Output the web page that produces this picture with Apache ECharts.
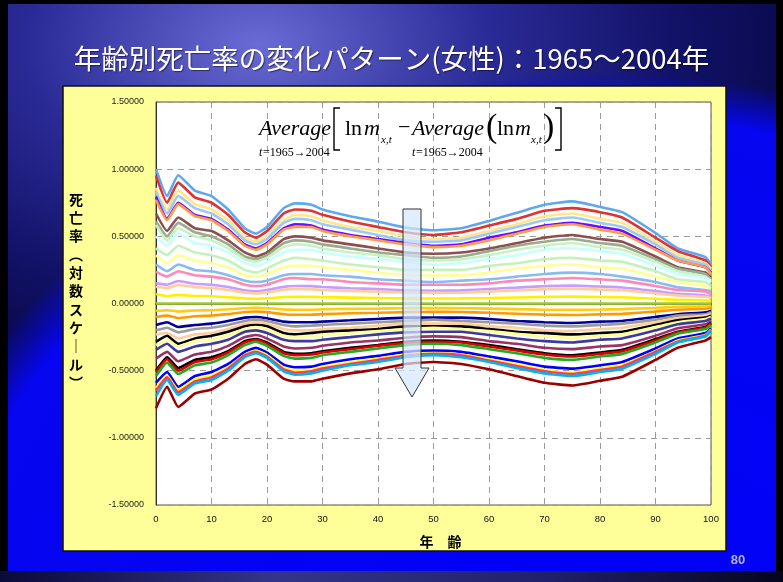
<!DOCTYPE html>
<html>
<head>
<meta charset="utf-8">
<script src="https://cdn.jsdelivr.net/npm/echarts@6/dist/echarts.min.js"></script>
<style>
  html, body { margin: 0; padding: 0; background: #000; width: 783px; height: 582px; overflow: hidden; }
  #slide {
    position: absolute; left: 8px; top: 4px; width: 768px; height: 567px;
    background:
      radial-gradient(ellipse 700px 548px at 592px 616px, #0000f8 0%, #0606f0 92%, rgba(10,10,200,0) 100%),
      radial-gradient(ellipse 520px 320px at 250px 40px, #6b6bd6 0%, #2a2a96 45%, #121268 80%, #0b0b52 100%);
  }
  #foot {
    position: absolute; left: 0; top: 571px; width: 783px; height: 11px;
    background: linear-gradient(90deg, #0a0a3a 0%, #34348a 35%, #20206a 70%, #05051e 100%);
  }
  #chart { position: absolute; left: 0; top: 0; width: 783px; height: 582px; }
</style>
</head>
<body>
<div id="slide"></div>
<div id="foot"></div>
<div id="chart"></div>
<script>
// Ages (years) at which each curve is sampled
const ages = [0, 2, 4, 7, 10, 13, 16, 18, 20, 23, 25, 28, 30, 35, 40, 45, 50, 55, 60, 65, 70, 75, 80, 84, 90, 94, 99, 100];

// Y axis tick values
const yTicks = [-1.5, -1.0, -0.5, 0, 0.5, 1.0, 1.5];

// Log mortality deviation curves, ordered from the top curve down to the bottom curve
const curve01 = [1.00,0.80,0.955,0.84,0.80,0.70,0.56,0.52,0.57,0.71,0.745,0.735,0.70,0.65,0.61,0.565,0.545,0.56,0.615,0.675,0.735,0.76,0.72,0.68,0.525,0.41,0.345,0.29];
const curve02 = [0.95,0.75,0.90,0.79,0.75,0.66,0.53,0.49,0.54,0.67,0.70,0.69,0.66,0.61,0.57,0.53,0.51,0.53,0.58,0.63,0.69,0.71,0.68,0.64,0.49,0.39,0.32,0.27];
const curve03 = [0.86,0.70,0.84,0.74,0.70,0.62,0.49,0.46,0.50,0.62,0.66,0.65,0.62,0.57,0.54,0.50,0.48,0.49,0.54,0.59,0.65,0.67,0.63,0.60,0.46,0.36,0.30,0.26];
const curve04 = [0.83,0.67,0.80,0.71,0.67,0.59,0.47,0.44,0.48,0.60,0.63,0.62,0.59,0.55,0.51,0.47,0.46,0.47,0.52,0.57,0.62,0.64,0.60,0.57,0.44,0.34,0.29,0.24];
const curve05 = [0.795,0.63,0.75,0.66,0.63,0.55,0.44,0.41,0.45,0.56,0.59,0.58,0.55,0.51,0.48,0.45,0.43,0.44,0.49,0.53,0.58,0.60,0.57,0.54,0.41,0.32,0.27,0.23];
const curve06 = [0.77,0.62,0.74,0.65,0.62,0.54,0.43,0.40,0.44,0.55,0.57,0.57,0.54,0.50,0.47,0.44,0.42,0.43,0.47,0.52,0.57,0.59,0.55,0.52,0.40,0.32,0.27,0.22];
const curve07 = [0.67,0.54,0.64,0.56,0.54,0.47,0.38,0.35,0.38,0.48,0.50,0.49,0.47,0.44,0.41,0.38,0.37,0.38,0.41,0.45,0.49,0.51,0.48,0.46,0.35,0.27,0.23,0.19];
const curve08 = [0.61,0.50,0.60,0.53,0.50,0.44,0.35,0.33,0.36,0.45,0.47,0.46,0.44,0.41,0.38,0.36,0.34,0.35,0.39,0.43,0.46,0.48,0.45,0.43,0.33,0.26,0.22,0.18];
const curve09 = [0.585,0.47,0.56,0.50,0.47,0.41,0.33,0.31,0.34,0.42,0.44,0.43,0.41,0.38,0.36,0.33,0.32,0.33,0.36,0.40,0.43,0.45,0.42,0.40,0.31,0.24,0.20,0.17];
const curve10 = [0.50,0.43,0.52,0.45,0.43,0.38,0.30,0.28,0.31,0.38,0.40,0.40,0.38,0.35,0.33,0.31,0.29,0.30,0.33,0.36,0.40,0.41,0.39,0.37,0.28,0.22,0.19,0.16];
const curve11 = [0.41,0.36,0.43,0.38,0.36,0.32,0.25,0.23,0.26,0.32,0.34,0.33,0.32,0.29,0.27,0.25,0.25,0.25,0.28,0.30,0.33,0.34,0.32,0.31,0.24,0.18,0.16,0.13];
const curve12 = [0.36,0.30,0.36,0.32,0.30,0.27,0.21,0.20,0.22,0.27,0.28,0.28,0.27,0.25,0.23,0.21,0.21,0.21,0.23,0.26,0.28,0.29,0.27,0.26,0.20,0.16,0.13,0.11];
const curve13 = [0.29,0.24,0.29,0.25,0.24,0.21,0.17,0.16,0.17,0.21,0.22,0.22,0.21,0.20,0.18,0.17,0.16,0.17,0.18,0.20,0.22,0.23,0.22,0.20,0.16,0.12,0.10,0.09];
const curve14 = [0.235,0.20,0.24,0.21,0.20,0.18,0.14,0.13,0.14,0.18,0.19,0.18,0.18,0.16,0.15,0.14,0.14,0.14,0.15,0.17,0.18,0.19,0.18,0.17,0.13,0.10,0.09,0.07];
const curve15 = [0.15,0.14,0.167,0.147,0.14,0.123,0.098,0.091,0.10,0.124,0.13,0.129,0.123,0.114,0.107,0.099,0.095,0.098,0.108,0.118,0.129,0.133,0.126,0.119,0.092,0.072,0.06,0.051];
const curve16 = [0.125,0.116,0.138,0.122,0.116,0.10,0.081,0.075,0.083,0.103,0.108,0.107,0.10,0.094,0.088,0.082,0.079,0.081,0.089,0.098,0.107,0.11,0.104,0.099,0.076,0.059,0.05,0.042];
const curve17 = [0.07,0.054,0.064,0.056,0.054,0.047,0.038,0.035,0.038,0.048,0.05,0.049,0.047,0.044,0.041,0.038,0.037,0.038,0.041,0.045,0.049,0.051,0.048,0.046,0.035,0.027,0.023,0.019];
const curve18 = [0,0,0,0,0,0,0,0,0,0,0,0,0,0,0,0,0,0,0,0,0,0,0,0,0,0,0,0];
const curve19 = [-0.055,-0.05,-0.059,-0.052,-0.05,-0.043,-0.035,-0.032,-0.035,-0.044,-0.046,-0.046,-0.043,-0.04,-0.038,-0.035,-0.034,-0.035,-0.038,-0.042,-0.046,-0.047,-0.045,-0.042,-0.033,-0.025,-0.021,-0.018];
const curve20 = [-0.10,-0.09,-0.108,-0.095,-0.09,-0.079,-0.063,-0.059,-0.064,-0.08,-0.084,-0.083,-0.079,-0.073,-0.069,-0.064,-0.062,-0.063,-0.069,-0.076,-0.083,-0.086,-0.081,-0.077,-0.059,-0.046,-0.039,-0.033];
const curve21 = [-0.16,-0.14,-0.175,-0.16,-0.15,-0.13,-0.105,-0.10,-0.11,-0.135,-0.14,-0.14,-0.135,-0.125,-0.115,-0.105,-0.105,-0.105,-0.115,-0.13,-0.14,-0.145,-0.135,-0.13,-0.10,-0.08,-0.065,-0.055];
const curve22 = [-0.20,-0.18,-0.215,-0.19,-0.18,-0.16,-0.13,-0.12,-0.13,-0.16,-0.17,-0.165,-0.16,-0.15,-0.14,-0.13,-0.12,-0.13,-0.14,-0.15,-0.165,-0.17,-0.16,-0.15,-0.12,-0.09,-0.08,-0.065];
const curve23 = [-0.23,-0.22,-0.26,-0.23,-0.22,-0.19,-0.15,-0.14,-0.15,-0.19,-0.20,-0.20,-0.19,-0.18,-0.165,-0.15,-0.15,-0.15,-0.17,-0.18,-0.20,-0.205,-0.19,-0.18,-0.14,-0.11,-0.09,-0.08];
const curve24 = [-0.285,-0.24,-0.30,-0.26,-0.24,-0.21,-0.17,-0.16,-0.17,-0.22,-0.23,-0.22,-0.21,-0.20,-0.19,-0.17,-0.17,-0.17,-0.19,-0.21,-0.22,-0.23,-0.22,-0.21,-0.16,-0.125,-0.105,-0.09];
const curve25 = [-0.31,-0.27,-0.32,-0.28,-0.27,-0.235,-0.19,-0.175,-0.19,-0.24,-0.25,-0.245,-0.235,-0.22,-0.205,-0.19,-0.18,-0.19,-0.205,-0.225,-0.245,-0.255,-0.24,-0.23,-0.175,-0.14,-0.115,-0.10];
const curve26 = [-0.345,-0.30,-0.36,-0.32,-0.30,-0.27,-0.21,-0.20,-0.22,-0.27,-0.28,-0.28,-0.27,-0.25,-0.23,-0.215,-0.21,-0.21,-0.235,-0.26,-0.28,-0.29,-0.27,-0.26,-0.20,-0.155,-0.13,-0.11];
const curve27 = [-0.41,-0.36,-0.43,-0.38,-0.36,-0.315,-0.25,-0.235,-0.26,-0.32,-0.335,-0.33,-0.315,-0.29,-0.275,-0.255,-0.245,-0.25,-0.28,-0.30,-0.33,-0.34,-0.32,-0.31,-0.24,-0.185,-0.155,-0.13];
const curve28 = [-0.50,-0.40,-0.48,-0.42,-0.40,-0.355,-0.28,-0.265,-0.29,-0.36,-0.375,-0.37,-0.355,-0.33,-0.31,-0.285,-0.275,-0.285,-0.31,-0.34,-0.37,-0.385,-0.365,-0.345,-0.265,-0.21,-0.175,-0.145];
const curve29 = [-0.51,-0.415,-0.50,-0.435,-0.415,-0.365,-0.29,-0.27,-0.30,-0.37,-0.385,-0.38,-0.365,-0.34,-0.315,-0.295,-0.285,-0.29,-0.32,-0.35,-0.38,-0.395,-0.375,-0.355,-0.275,-0.215,-0.18,-0.15];
const curve30 = [-0.54,-0.44,-0.525,-0.46,-0.44,-0.385,-0.31,-0.285,-0.315,-0.39,-0.41,-0.405,-0.385,-0.36,-0.335,-0.31,-0.30,-0.31,-0.34,-0.37,-0.405,-0.42,-0.395,-0.375,-0.29,-0.225,-0.19,-0.16];
const curve31 = [-0.59,-0.51,-0.62,-0.54,-0.51,-0.45,-0.36,-0.33,-0.365,-0.455,-0.475,-0.47,-0.45,-0.415,-0.39,-0.36,-0.35,-0.36,-0.395,-0.43,-0.47,-0.485,-0.46,-0.435,-0.335,-0.26,-0.22,-0.185];
const curve32 = [-0.63,-0.54,-0.645,-0.565,-0.54,-0.475,-0.38,-0.35,-0.385,-0.48,-0.50,-0.495,-0.475,-0.44,-0.41,-0.38,-0.37,-0.38,-0.415,-0.455,-0.495,-0.515,-0.485,-0.46,-0.355,-0.275,-0.235,-0.195];
const curve33 = [-0.65,-0.55,-0.66,-0.58,-0.55,-0.485,-0.385,-0.36,-0.395,-0.49,-0.515,-0.505,-0.485,-0.45,-0.42,-0.39,-0.375,-0.385,-0.425,-0.465,-0.505,-0.525,-0.495,-0.47,-0.36,-0.285,-0.24,-0.20];
const curve34 = [-0.69,-0.57,-0.68,-0.595,-0.57,-0.50,-0.40,-0.37,-0.405,-0.505,-0.53,-0.52,-0.50,-0.46,-0.435,-0.40,-0.385,-0.40,-0.435,-0.48,-0.52,-0.54,-0.51,-0.485,-0.375,-0.29,-0.245,-0.205];
const curve35 = [-0.78,-0.62,-0.77,-0.67,-0.64,-0.56,-0.45,-0.415,-0.455,-0.56,-0.58,-0.58,-0.56,-0.52,-0.49,-0.45,-0.435,-0.45,-0.49,-0.54,-0.59,-0.61,-0.575,-0.545,-0.42,-0.33,-0.275,-0.25];

const curveList = [curve01, curve02, curve03, curve04, curve05, curve06, curve07, curve08, curve09, curve10,
  curve11, curve12, curve13, curve14, curve15, curve16, curve17, curve18, curve19, curve20,
  curve21, curve22, curve23, curve24, curve25, curve26, curve27, curve28, curve29, curve30,
  curve31, curve32, curve33, curve34, curve35];

const curveColors = [
  '#5fa8f0', '#e03232', '#ffe88a', '#9cc8fa', '#6a0cff', '#ff9a45', '#8a5050', '#9aaa8c', '#c8f2c4', '#c8ffff',
  '#c4f2bc', '#ffff96', '#88bcf0', '#ff88b8', '#c89cff', '#ffcc9c', '#fff000', '#9ccc2c', '#ffcc10', '#ff9a00',
  '#000096', '#9a9a9a', '#ffcc9c', '#000000', '#ffff96', '#3a3aa0', '#993366', '#000000', '#dd0000', '#22aa22',
  '#0000ff', '#ffff00', '#ff3366', '#00b4f0', '#990000'
];

const chart = echarts.init(document.getElementById('chart'), null, { renderer: 'canvas' });

const serif = 'Liberation Serif, Times New Roman, serif';

const series = curveList.map((vals, i) => ({
  type: 'line',
  name: 'curve' + (i + 1),
  data: vals.map((v, j) => [ages[j], v]),
  showSymbol: false,
  smooth: 0.15,
  clip: true,
  lineStyle: { color: curveColors[i], width: 2.6 },
  emphasis: { disabled: true },
  z: 3
}));

// formula pieces, all drawn above the plot area
const fz = 40;
function ftext(x, y, text, font) {
  return { type: 'text', z: fz, style: { x: x, y: y, text: text, font: font, fill: '#000', verticalAlign: 'middle' } };
}
const formula = [
  ftext(259, 129, 'Average', 'italic 22px ' + serif),
  ftext(259, 153, 't', 'italic 12px ' + serif),
  ftext(263, 153, '=1965→2004', '12px ' + serif),
  { type: 'polyline', z: fz, shape: { points: [[340, 108], [334, 108], [334, 150], [340, 150]] }, style: { stroke: '#000', lineWidth: 1.4, fill: null } },
  ftext(345, 129, 'ln', '22px ' + serif),
  ftext(364, 129, 'm', 'italic 22px ' + serif),
  ftext(381, 140, 'x,t', 'italic 11px ' + serif),
  ftext(398, 128, '−', '22px ' + serif),
  ftext(412, 129, 'Average', 'italic 22px ' + serif),
  ftext(412, 153, 't', 'italic 12px ' + serif),
  ftext(416, 153, '=1965→2004', '12px ' + serif),
  ftext(486, 128, '(', '34px ' + serif),
  ftext(497, 129, 'ln', '22px ' + serif),
  ftext(515, 129, 'm', 'italic 22px ' + serif),
  ftext(531, 140, 'x,t', 'italic 11px ' + serif),
  ftext(543, 128, ')', '34px ' + serif),
  { type: 'polyline', z: fz, shape: { points: [[555, 108], [561, 108], [561, 150], [555, 150]] }, style: { stroke: '#000', lineWidth: 1.4, fill: null } }
];

chart.setOption({
  animation: false,
  backgroundColor: 'transparent',
  title: {
    text: '年齢別死亡率の変化パターン(女性)：1965～2004年',
    left: 'center',
    top: 40,
    textStyle: {
      color: '#ffffff',
      fontSize: 27.5,
      fontWeight: 'normal',
      fontFamily: 'Noto Sans CJK JP',
      textShadowColor: 'rgba(0,0,0,0.5)',
      textShadowOffsetX: 1,
      textShadowOffsetY: 1,
      textShadowBlur: 1
    }
  },
  grid: {
    left: 156, right: 72, top: 102, bottom: 77,
    show: true,
    backgroundColor: '#ffffff',
    borderColor: '#555555',
    borderWidth: 1
  },
  xAxis: {
    type: 'value',
    min: 0, max: 100, interval: 10,
    name: '年　齢',
    nameLocation: 'middle',
    nameGap: 30,
    nameTextStyle: { fontFamily: 'Noto Sans CJK JP', fontWeight: 'bold', fontSize: 14, color: '#000', padding: [0, 0, 0, 14] },
    axisLine: { show: true, lineStyle: { color: '#222', width: 1.5 } },
    axisTick: { show: false },
    axisLabel: { color: '#111', fontSize: 9.5, margin: 9, fontFamily: 'Liberation Sans Narrow, Liberation Sans, Arial' },
    splitLine: { show: true, lineStyle: { color: '#9a9a9a', type: [6, 5], width: 1 } }
  },
  yAxis: {
    type: 'value',
    min: -1.5, max: 1.5, interval: 0.5,
    axisLine: { show: true, lineStyle: { color: '#333', width: 1 } },
    axisTick: { show: false },
    axisLabel: {
      color: '#222', fontSize: 9, margin: 12, fontFamily: 'Liberation Sans, Arial',
      formatter: v => (yTicks.some(t => Math.abs(t - v) < 1e-9) ? v.toFixed(5) : '')
    },
    splitLine: { show: true, lineStyle: { color: '#9a9a9a', type: [6, 5], width: 1 } }
  },
  graphic: [
    // yellow panel behind the plot
    { type: 'rect', z: -10, shape: { x: 63, y: 86, width: 663, height: 465 },
      style: { fill: '#ffff99', stroke: '#111', lineWidth: 1.5 } },
    // vertical y axis title
    { type: 'text', z: 10, style: { x: 76, y: 291, text: '死\n亡\n率\n︵\n対\n数\nス\nケ\n｜\nル\n︶',
      fontFamily: 'Noto Sans CJK JP', fontWeight: 'bold', fontSize: 14, lineHeight: 18.3, fill: '#000',
      align: 'center', verticalAlign: 'middle' } },
    // page number
    { type: 'text', z: 10, style: { x: 738, y: 560, text: '80', fill: '#b4b4cc', fontSize: 13, fontWeight: 'bold',
      fontFamily: 'Liberation Sans, Arial', align: 'center', verticalAlign: 'middle' } },
    ...formula,
    // downward arrow showing the direction of change over time
    { type: 'polygon', z: 50,
      shape: { points: [[403, 209], [421, 209], [421, 368], [429, 368], [412, 397], [395, 368], [403, 368]] },
      style: { fill: 'rgba(214,232,252,0.72)', stroke: '#333', lineWidth: 1 } }
  ],
  series: series
});
</script>
</body>
</html>
